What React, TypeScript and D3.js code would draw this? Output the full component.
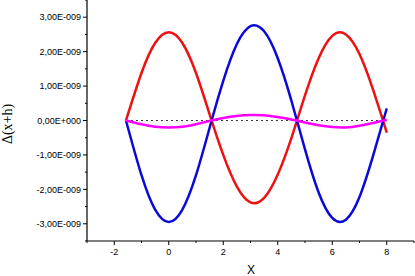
import React from 'react';
import * as d3 from 'd3';

// x positions of the sampled points
const xs = [-1.57, -1, -0.5, 0, 0.5, 1, 1.5, 2, 2.5, 3, 3.5, 4, 4.5, 5, 5.5, 6, 6.5, 7, 7.5, 8];
// values in units of 1e-9
const redVals = [0, 1.38, 2.25, 2.56, 2.25, 1.38, 0.18, -1.0, -1.92, -2.38, -2.25, -1.57, -0.51, 0.73, 1.81, 2.46, 2.5, 1.93, 0.89, -0.35];
const blueVals = [0, -1.59, -2.59, -2.95, -2.59, -1.59, -0.21, 1.15, 2.22, 2.74, 2.59, 1.81, 0.58, -0.84, -2.09, -2.83, -2.88, -2.22, -1.02, 0.35];
const magentaVals = [0, -0.11, -0.18, -0.2, -0.18, -0.11, -0.01, 0.07, 0.13, 0.16, 0.15, 0.1, 0.03, -0.06, -0.14, -0.19, -0.2, -0.15, -0.07, 0.02];
const zeroLine = [0, 0];
const zeroXs = [-1.57, 8];

const xTicks = [-2, 0, 2, 4, 6, 8];
const yTicks = [-3, -2, -1, 0, 1, 2, 3];
const yTickLabels = ['-3,00E-009', '-2,00E-009', '-1,00E-009', '0,00E+000', '1,00E-009', '2,00E-009', '3,00E-009'];

const W = 415, H = 276;
const left = 87, right = 414, top = 0, bottom = 241;

const App: React.FC = () => {
  const x = d3.scaleLinear().domain([-3, 9]).range([left, right]);
  const y = d3.scaleLinear().domain([-3.5, 3.5]).range([bottom, top]);

  const line = d3.line<[number, number]>()
    .x(d => x(d[0]))
    .y(d => y(d[1]))
    .curve(d3.curveNatural);

  const pts = (vals: number[], xv: number[] = xs) => xv.map((v, i) => [v, vals[i]] as [number, number]);

  const xMinor = d3.range(-3, 9.01, 1).filter(v => !xTicks.includes(v));
  const yMinor = d3.range(-3.5, 3.51, 0.5).filter(v => !yTicks.includes(Math.round(v * 10) / 10));

  const font = 'Liberation Sans, Arial, sans-serif';

  return (
    <svg width={W} height={H} style={{ position: 'absolute', left: 0, top: 0, background: '#fff' }}>
      <path d={line(pts(zeroLine, zeroXs)) || ''} fill="none" stroke="#333" strokeWidth={1} strokeDasharray="2,3" />
      <path d={line(pts(redVals)) || ''} fill="none" stroke="#ee1111" strokeWidth={2.5} />
      <path d={line(pts(blueVals)) || ''} fill="none" stroke="#0a0ad8" strokeWidth={2.5} />
      <path d={line(pts(magentaVals)) || ''} fill="none" stroke="#ff00ff" strokeWidth={2.5} />

      {/* axes */}
      <line x1={left} x2={left} y1={top} y2={bottom} stroke="#000" strokeWidth={1.2} />
      <line x1={left} x2={right} y1={bottom} y2={bottom} stroke="#000" strokeWidth={1.2} />

      {yTicks.map((t, i) => (
        <g key={'y' + t}>
          <line x1={left - 4} x2={left} y1={y(t)} y2={y(t)} stroke="#000" strokeWidth={1} />
          <text x={left - 6} y={y(t)} dy="0.35em" textAnchor="end" fontFamily={font} fontSize={9} fill="#000">{yTickLabels[i]}</text>
        </g>
      ))}
      {yMinor.map(t => (
        <line key={'ym' + t} x1={left - 2} x2={left} y1={y(t)} y2={y(t)} stroke="#000" strokeWidth={1} />
      ))}
      {xTicks.map(t => (
        <g key={'x' + t}>
          <line x1={x(t)} x2={x(t)} y1={bottom} y2={bottom + 4} stroke="#000" strokeWidth={1} />
          <text x={x(t)} y={bottom + 14} textAnchor="middle" fontFamily={font} fontSize={9} fill="#000">{t}</text>
        </g>
      ))}
      {xMinor.map(t => (
        <line key={'xm' + t} x1={x(t)} x2={x(t)} y1={bottom} y2={bottom + 2} stroke="#000" strokeWidth={1} />
      ))}

      <text x={251} y={274} textAnchor="middle" fontFamily={font} fontSize={12} fill="#000">X</text>
      <text transform="translate(12,124) rotate(-90)" textAnchor="middle" fontFamily="Liberation Serif, Times New Roman, serif" fontSize={14} fill="#000">Δ(x+h)</text>
    </svg>
  );
};

export default App;
